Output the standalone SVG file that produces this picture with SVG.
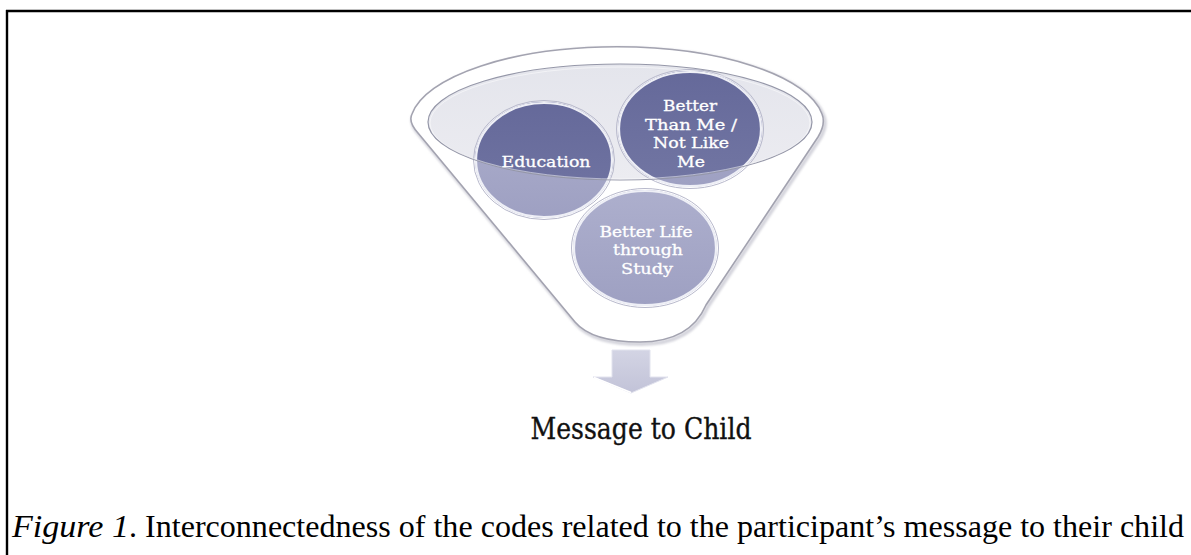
<svg xmlns="http://www.w3.org/2000/svg" width="1191" height="555" viewBox="0 0 1191 555">
  <style>
    .frame { stroke: #000; stroke-width: 2.4; fill: none; }
    .funnel { fill: #fff; stroke: #a3a3b0; stroke-width: 1.6; }
    .rim { fill: none; stroke: #eeeff6; stroke-width: 2.2; }
    .rimShade { fill: none; stroke: #b8b9cc; stroke-width: 1; }
    .lbl { font-family: "DejaVu Serif", "Liberation Serif", serif; font-size: 15px; fill: #fff; text-anchor: middle; stroke: #fff; stroke-width: 0.3; }
    .title { font-family: "DejaVu Serif", "Liberation Serif", serif; font-size: 29px; fill: #111; text-anchor: middle; stroke: #111; stroke-width: 0.35; }
    .caption { font-family: "Liberation Serif", "Times New Roman", serif; font-size: 32px; fill: #000; }
  </style>
  <defs>
    <clipPath id="bowl">
      <ellipse cx="620" cy="122" rx="192" ry="58"/>
    </clipPath>
    <linearGradient id="lightBall" x1="0" y1="0" x2="0" y2="1">
      <stop offset="0" stop-color="#adafcd"/>
      <stop offset="1" stop-color="#9ea0c2"/>
    </linearGradient>
    <linearGradient id="darkBall" x1="0" y1="0" x2="0" y2="1">
      <stop offset="0" stop-color="#65699a"/>
      <stop offset="1" stop-color="#7276a3"/>
    </linearGradient>
    <linearGradient id="bowlFill" x1="0" y1="0" x2="0" y2="1">
      <stop offset="0" stop-color="#e4e5ec"/>
      <stop offset="1" stop-color="#ececf1"/>
    </linearGradient>
    <linearGradient id="arrowFill" x1="0" y1="0" x2="0" y2="1">
      <stop offset="0" stop-color="#d3d4e4"/>
      <stop offset="1" stop-color="#c2c3d8"/>
    </linearGradient>
    <filter id="soft" x="-10%" y="-10%" width="120%" height="120%">
      <feGaussianBlur stdDeviation="1.2"/>
    </filter>
  </defs>

  <!-- page frame (top and left edges) -->
  <g id="frame">
    <line class="frame" x1="6" y1="11" x2="1191" y2="11"/>
    <line class="frame" x1="7" y1="10" x2="7" y2="555"/>
  </g>

  <!-- funnel body -->
  <g id="funnel">
    <path d="M 575,322 L 418,133 Q 408,122 412,114 A 207 78 0 0 1 822,114 Q 826,124 818,137 L 706,305 Q 690,342 640,342 Q 592,342 575,322 Z"
          fill="none" stroke="#d4d4dc" stroke-width="4" filter="url(#soft)" transform="translate(1.5,2)"/>
    <path class="funnel" d="M 575,322 L 418,133 Q 408,122 412,114 A 207 78 0 0 1 822,114 Q 826,124 818,137 L 706,305 Q 690,342 640,342 Q 592,342 575,322 Z"/>
    <ellipse cx="620" cy="122" rx="192" ry="58" fill="url(#bowlFill)"/>
  </g>

  <!-- Education -->
  <g id="node-education">
    <ellipse cx="544" cy="160" rx="69" ry="58" fill="url(#lightBall)"/>
    <ellipse cx="544" cy="160" rx="69" ry="58" fill="url(#darkBall)" clip-path="url(#bowl)"/>
    <ellipse class="rimShade" cx="544" cy="160" rx="70.5" ry="59.5"/>
    <ellipse class="rim" cx="544" cy="160" rx="68" ry="57"/>
  </g>

  <!-- Better Than Me / Not Like Me -->
  <g id="node-better-than-me">
    <ellipse cx="690" cy="129" rx="72" ry="58" fill="url(#lightBall)"/>
    <ellipse cx="690" cy="129" rx="72" ry="58" fill="url(#darkBall)" clip-path="url(#bowl)"/>
    <ellipse class="rimShade" cx="690" cy="129" rx="73.5" ry="59.5"/>
    <ellipse class="rim" cx="690" cy="129" rx="71" ry="57"/>
  </g>

  <!-- Better Life through Study -->
  <g id="node-better-life">
    <ellipse cx="645" cy="248" rx="72" ry="58" fill="url(#lightBall)"/>
    <ellipse class="rimShade" cx="645" cy="248" rx="73.5" ry="59.5"/>
    <ellipse class="rim" cx="645" cy="248" rx="71" ry="57"/>
  </g>

  <!-- bowl rim drawn over the balls -->
  <g id="bowl-rim">
    <ellipse cx="620" cy="122" rx="192" ry="58" fill="none" stroke="#9597a8" stroke-width="1.2"/>
    <ellipse cx="620" cy="123" rx="190" ry="56" fill="none" stroke="#ffffff" stroke-opacity="0.5" stroke-width="1"/>
  </g>

  <!-- ball labels -->
  <g id="labels">
    <text class="lbl" x="546" y="167" textLength="89" lengthAdjust="spacingAndGlyphs">Education</text>
    <text class="lbl" x="690" y="111" textLength="54" lengthAdjust="spacingAndGlyphs">Better</text>
    <text class="lbl" x="691" y="130" textLength="92" lengthAdjust="spacingAndGlyphs">Than Me /</text>
    <text class="lbl" x="691" y="148" textLength="76" lengthAdjust="spacingAndGlyphs">Not Like</text>
    <text class="lbl" x="691" y="167" textLength="28" lengthAdjust="spacingAndGlyphs">Me</text>
    <text class="lbl" x="646" y="237" textLength="93" lengthAdjust="spacingAndGlyphs">Better Life</text>
    <text class="lbl" x="648" y="255" textLength="70" lengthAdjust="spacingAndGlyphs">through</text>
    <text class="lbl" x="647" y="274" textLength="52" lengthAdjust="spacingAndGlyphs">Study</text>
  </g>

  <!-- down arrow -->
  <g id="connectors">
    <path d="M 612,350 L 650,350 L 650,377 L 668,377 L 631,393 L 593,377 L 612,377 Z"
          fill="url(#arrowFill)" stroke="#e2e3ee" stroke-width="1"/>
    <path d="M 594,377.5 L 631,392.5" stroke="#ffffff" stroke-width="1.5" fill="none"/>
  </g>

  <!-- result -->
  <g id="node-message">
    <text class="title" x="641" y="439" textLength="221" lengthAdjust="spacingAndGlyphs">Message to Child</text>
  </g>

  <!-- caption -->
  <g id="caption">
    <text class="caption" x="12" y="537" font-style="italic" textLength="117" lengthAdjust="spacingAndGlyphs">Figure 1</text>
    <text class="caption" x="129" y="537" textLength="1055" lengthAdjust="spacingAndGlyphs">. Interconnectedness of the codes related to the participant’s message to their child</text>
  </g>
</svg>
